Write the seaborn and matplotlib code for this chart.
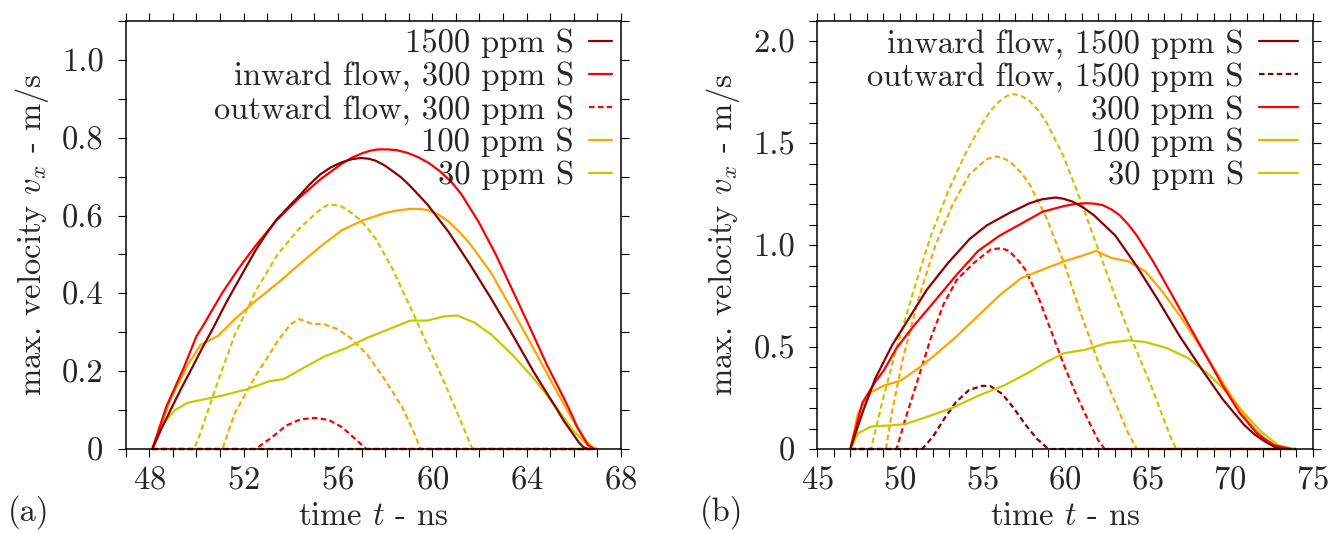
import matplotlib
matplotlib.use("Agg")
import matplotlib.pyplot as plt
from matplotlib.ticker import MultipleLocator, FixedLocator, FixedFormatter
import seaborn as sns

# ---- panel (a) data: time in ns, max. velocity in m/s ----
a_t_1500_in = [48.13, 48.5, 48.9, 49.35, 49.8, 50.25, 50.7, 51.25, 51.8, 52.5, 52.95, 53.4,
               53.9, 54.35, 54.8, 55.25, 55.7, 56.16, 56.6, 56.98, 57.3, 57.6, 58.0, 58.3,
               58.7, 59.06, 59.8, 60.7, 61.6, 62.5, 63.4, 64.3, 65.2, 65.6, 65.95, 66.2,
               66.4, 66.6]
a_v_1500_in = [0, 0.05, 0.10, 0.155, 0.207, 0.26, 0.31, 0.375, 0.435, 0.51, 0.552, 0.59,
               0.622, 0.65, 0.68, 0.706, 0.724, 0.737, 0.745, 0.748, 0.746, 0.741, 0.728, 0.715,
               0.697, 0.676, 0.628, 0.557, 0.474, 0.386, 0.294, 0.198, 0.11, 0.07, 0.04, 0.018,
               0.005, 0]
a_t_1500_out = [48.13, 67.0]
a_v_1500_out = [0, 0]

a_t_300_in = [48.13, 48.73, 49.45, 50.0, 50.27, 51.08, 51.8, 52.5, 53.4, 54.35, 55.25, 56.16,
              56.6, 57.07, 57.4, 57.7, 58.1, 58.5, 58.95, 59.4, 59.85, 60.3, 60.8, 61.24,
              61.96, 62.69, 63.4, 64.14, 64.86, 65.6, 65.9, 66.13, 66.4, 66.6, 66.86]
a_v_300_in = [0, 0.11, 0.207, 0.29, 0.316, 0.40, 0.465, 0.522, 0.588, 0.645, 0.693, 0.733,
              0.749, 0.761, 0.767, 0.77, 0.77, 0.768, 0.761, 0.75, 0.735, 0.715, 0.687, 0.654,
              0.584, 0.50, 0.408, 0.312, 0.216, 0.128, 0.09, 0.058, 0.03, 0.01, 0]
a_t_300_out = [48.13, 52.5, 53.2, 53.8, 54.4, 55.0, 55.6, 56.2, 56.8, 57.2, 67.0]
a_v_300_out = [0, 0, 0.03, 0.06, 0.076, 0.08, 0.075, 0.055, 0.022, 0, 0]

a_t_100_in = [48.13, 48.9, 49.63, 50.18, 50.9, 51.63, 52.53, 53.44, 54.35, 55.25, 56.16, 57.07,
              57.97, 58.5, 59.06, 59.45, 59.79, 60.25, 60.7, 61.15, 61.6, 62.5, 63.4, 64.32,
              65.22, 65.95, 66.25, 66.5, 66.75, 66.95]
a_v_100_in = [0, 0.128, 0.216, 0.268, 0.29, 0.334, 0.382, 0.426, 0.474, 0.52, 0.562, 0.588,
              0.606, 0.613, 0.617, 0.617, 0.614, 0.603, 0.584, 0.558, 0.527, 0.452, 0.356,
              0.255, 0.154, 0.075, 0.045, 0.023, 0.007, 0]
a_t_100_out = [48.13, 51.1, 51.63, 52.53, 53.44, 53.98, 54.35, 54.89, 55.43, 55.98, 56.52,
               57.25, 57.97, 58.7, 59.24, 59.5, 67.0]
a_v_100_out = [0, 0, 0.093, 0.19, 0.277, 0.32, 0.334, 0.322, 0.32, 0.308, 0.286,
               0.242, 0.18, 0.11, 0.04, 0, 0]

a_t_30_in = [48.13, 48.54, 49.09, 49.63, 50.36, 51.08, 52.17, 53.08, 53.71, 54.35, 55.43, 56.34,
             57.25, 58.33, 59.06, 59.79, 60.5, 61.06, 61.78, 62.5, 63.4, 64.32, 65.22, 65.95,
             66.67, 67.0]
a_v_30_in = [0, 0.062, 0.10, 0.119, 0.128, 0.137, 0.154, 0.174, 0.18, 0.202, 0.238, 0.259,
             0.286, 0.312, 0.33, 0.33, 0.341, 0.343, 0.325, 0.294, 0.242, 0.18, 0.11, 0.049,
             0.005, 0]
a_t_30_out = [48.13, 49.9, 50.1, 50.36, 50.9, 51.63, 52.53, 53.44, 54.35, 55.07, 55.35, 55.6,
              55.9, 56.16, 56.5, 56.88, 57.25, 57.6, 58.33, 59.06, 59.79, 60.5, 61.06, 61.6,
              61.7, 67.0]
a_v_30_out = [0, 0, 0.03, 0.075, 0.172, 0.294, 0.408, 0.50, 0.566, 0.606, 0.62, 0.628,
              0.627, 0.623, 0.61, 0.592, 0.568, 0.54, 0.461, 0.365, 0.268, 0.172, 0.093, 0.014,
              0, 0]

# ---- panel (b) data ----
b_t_1500_in = [47.0, 47.73, 48.5, 49.55, 50.58, 51.62, 52.92, 54.22, 55.26, 56.56, 57.86, 58.6,
               59.42, 59.9, 60.45, 61.1, 61.75, 63.05, 64.35, 65.65, 66.95, 68.25, 69.55,
               70.84, 71.5, 72.14, 72.7, 73.18]
b_v_1500_in = [0, 0.177, 0.344, 0.512, 0.645, 0.78, 0.913, 1.03, 1.097, 1.155, 1.206, 1.225,
               1.234, 1.228, 1.214, 1.185, 1.147, 1.047, 0.896, 0.729, 0.553, 0.395, 0.244,
               0.119, 0.07, 0.035, 0.01, 0]
b_t_1500_out = [47.0, 51.35, 52.0, 52.7, 53.4, 54.2, 55.0, 55.5, 56.2, 56.9, 57.6, 58.3, 59.0, 74.0]
b_v_1500_out = [0, 0, 0.06, 0.15, 0.23, 0.29, 0.31, 0.308, 0.27, 0.2, 0.12, 0.05, 0, 0]

b_t_300_in = [47.0, 47.73, 48.5, 49.03, 49.8, 50.84, 52.14, 53.44, 54.74, 56.04, 57.34, 58.64,
              59.94, 60.6, 61.23, 61.75, 62.27, 62.8, 63.31, 63.85, 64.35, 65.39, 66.43, 67.47,
              68.51, 69.55, 70.58, 71.62, 72.66, 73.7]
b_v_300_in = [0, 0.227, 0.328, 0.386, 0.495, 0.604, 0.729, 0.855, 0.972, 1.047, 1.105, 1.164,
              1.192, 1.202, 1.206, 1.204, 1.197, 1.176, 1.147, 1.1, 1.047, 0.913, 0.763, 0.612,
              0.462, 0.311, 0.177, 0.077, 0.018, 0]
b_t_300_out = [47.0, 49.8, 50.32, 51.1, 51.88, 52.66, 53.44, 54.48, 55.52, 56.17, 56.5, 56.82,
               57.2, 57.6, 58.38, 59.16, 59.94, 60.71, 61.49, 62.01, 62.4, 74.0]
b_v_300_out = [0, 0, 0.144, 0.344, 0.545, 0.712, 0.829, 0.913, 0.98, 0.985, 0.975, 0.955,
               0.922, 0.88, 0.746, 0.579, 0.411, 0.261, 0.127, 0.043, 0, 0]

b_t_100_in = [47.0, 47.47, 48.25, 49.03, 50.06, 51.1, 52.14, 53.44, 54.74, 56.04, 57.34, 58.64,
              59.94, 60.97, 61.88, 62.79, 63.83, 64.87, 65.91, 66.95, 67.99, 69.03, 70.06,
              71.1, 72.14, 73.18, 73.8]
b_v_100_in = [0, 0.177, 0.278, 0.311, 0.336, 0.395, 0.462, 0.553, 0.654, 0.754, 0.838, 0.88,
              0.921, 0.946, 0.972, 0.938, 0.921, 0.871, 0.771, 0.654, 0.528, 0.395, 0.261,
              0.135, 0.043, 0.005, 0]
b_t_100_out = [47.0, 49.15, 49.55, 50.19, 51.1, 52.14, 53.18, 54.22, 55.26, 55.9, 56.4, 56.82,
               57.35, 57.86, 58.9, 59.94, 60.97, 62.01, 63.05, 63.83, 64.35, 74.0]
b_v_100_out = [0, 0, 0.194, 0.445, 0.729, 0.997, 1.197, 1.348, 1.423, 1.435, 1.422, 1.398,
               1.355, 1.298, 1.13, 0.913, 0.662, 0.428, 0.227, 0.077, 0, 0]

b_t_30_in = [47.0, 47.47, 48.25, 49.29, 50.32, 51.62, 53.18, 54.74, 56.3, 57.86, 58.9, 59.94,
             61.23, 62.53, 63.83, 64.87, 66.17, 67.47, 68.77, 69.81, 70.84, 71.88, 72.92, 73.83]
b_v_30_in = [0, 0.077, 0.11, 0.115, 0.122, 0.157, 0.202, 0.261, 0.311, 0.378, 0.428, 0.47,
             0.487, 0.52, 0.533, 0.525, 0.495, 0.445, 0.361, 0.278, 0.177, 0.085, 0.018, 0]
b_t_30_out = [47.0, 48.25, 49.03, 49.8, 50.84, 51.88, 52.92, 53.96, 55.0, 55.5, 56.04, 56.5,
              56.9, 57.4, 57.86, 58.4, 58.9, 59.94, 60.97, 62.01, 63.05, 64.09, 65.13, 65.91,
              66.43, 66.74, 74.0]
b_v_30_out = [0, 0, 0.261, 0.495, 0.779, 1.047, 1.264, 1.448, 1.599, 1.66, 1.707, 1.733,
              1.741, 1.73, 1.707, 1.66, 1.599, 1.431, 1.214, 0.98, 0.746, 0.528, 0.328, 0.161,
              0.052, 0, 0]

DARKRED = "#8b0000"
RED = "#ff0000"
ORANGE = "#ffa500"
DARKYELLOW = "#c8c800"
DASH = (0, (2.5, 1.5))

# (t, v, colour, dashed, legend label or None), drawn in this order
curves_a = [
    (a_t_30_out, a_v_30_out, DARKYELLOW, True, None),
    (a_t_100_out, a_v_100_out, ORANGE, True, None),
    (a_t_1500_out, a_v_1500_out, DARKRED, True, None),
    (a_t_300_out, a_v_300_out, RED, True, "outward flow, 300 ppm S"),
    (a_t_30_in, a_v_30_in, DARKYELLOW, False, "30 ppm S"),
    (a_t_100_in, a_v_100_in, ORANGE, False, "100 ppm S"),
    (a_t_300_in, a_v_300_in, RED, False, "inward flow, 300 ppm S"),
    (a_t_1500_in, a_v_1500_in, DARKRED, False, "1500 ppm S"),
]
legend_a = ["1500 ppm S", "inward flow, 300 ppm S", "outward flow, 300 ppm S",
            "100 ppm S", "30 ppm S"]

curves_b = [
    (b_t_30_out, b_v_30_out, DARKYELLOW, True, None),
    (b_t_100_out, b_v_100_out, ORANGE, True, None),
    (b_t_300_out, b_v_300_out, RED, True, None),
    (b_t_1500_out, b_v_1500_out, DARKRED, True, "outward flow, 1500 ppm S"),
    (b_t_30_in, b_v_30_in, DARKYELLOW, False, "30 ppm S"),
    (b_t_100_in, b_v_100_in, ORANGE, False, "100 ppm S"),
    (b_t_300_in, b_v_300_in, RED, False, "300 ppm S"),
    (b_t_1500_in, b_v_1500_in, DARKRED, False, "inward flow, 1500 ppm S"),
]
legend_b = ["inward flow, 1500 ppm S", "outward flow, 1500 ppm S", "300 ppm S",
            "100 ppm S", "30 ppm S"]

FS = 23.5


def draw_panel(ax, curves, order, xlim, ylim, xmajor, ylabels, handlelen, anchor):
	handles = {}
	for t, v, color, dashed, label in curves:
		sns.lineplot(x=t, y=v, ax=ax, color=color, lw=1.6, sort=False, estimator=None,
		             linestyle=DASH if dashed else "-", legend=False, clip_on=False)
		if label is not None:
			handles[label] = ax.lines[-1]
	ax.set_xlim(*xlim)
	ax.set_ylim(*ylim)
	ax.xaxis.set_major_locator(MultipleLocator(xmajor))
	ax.xaxis.set_minor_locator(MultipleLocator(1))
	ax.yaxis.set_major_locator(FixedLocator([float(s) for s in ylabels]))
	ax.yaxis.set_major_formatter(FixedFormatter(ylabels))
	ax.yaxis.set_minor_locator(MultipleLocator(0.1))
	ax.tick_params(which="both", direction="out", top=True, right=True, length=6,
	               width=0.8, color="black")
	ax.tick_params(axis="x", which="major", labelsize=FS, pad=6)
	ax.tick_params(axis="y", which="major", labelsize=FS, pad=10)
	for s in ax.spines.values():
		s.set_linewidth(1.1)
		s.set_color("black")
	ax.set_xlabel("time $t$ - ns", fontsize=FS, labelpad=5)
	ax.set_ylabel("max. velocity $v_x$ - m/s", fontsize=FS, labelpad=8)
	leg = ax.legend([handles[k] for k in order], order, loc="upper right",
	                bbox_to_anchor=anchor, markerfirst=False, frameon=False,
	                fontsize=FS, handlelength=handlelen, handletextpad=0.45,
	                labelspacing=0.1, borderpad=0, borderaxespad=0)
	return leg


sns.set_style("ticks")
plt.rcParams["font.family"] = ["cmr10", "DejaVu Serif"]
plt.rcParams["mathtext.fontset"] = "cm"
plt.rcParams["axes.formatter.use_mathtext"] = True
plt.rcParams["axes.unicode_minus"] = False

fig = plt.figure(figsize=(13.4, 5.34), dpi=100)
ax_a = fig.add_axes([125.7 / 1340, 85 / 534, 495.3 / 1340, 428 / 534])
ax_b = fig.add_axes([817.3 / 1340, 85 / 534, 495.4 / 1340, 428 / 534])

draw_panel(ax_a, curves_a, legend_a, (47, 68), (0, 1.1), 4,
           ["0", "0.2", "0.4", "0.6", "0.8", "1.0"], 0.72, (0.982, 0.982))
draw_panel(ax_b, curves_b, legend_b, (45, 75), (0, 2.1), 5,
           ["0", "0.5", "1.0", "1.5", "2.0"], 1.2, (0.97, 0.982))

fig.text(8 / 1340, 1 - 512 / 534, "(a)", fontsize=FS, ha="left", va="center")
fig.text(700 / 1340, 1 - 512 / 534, "(b)", fontsize=FS, ha="left", va="center")

fig.savefig("out.png", dpi=100)
